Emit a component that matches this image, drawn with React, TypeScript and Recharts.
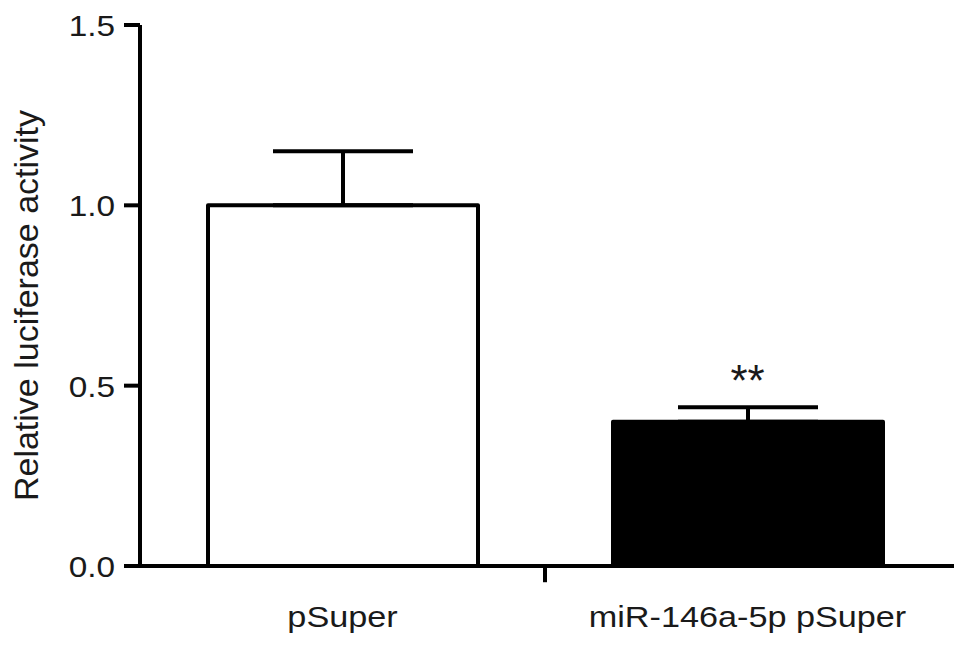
import React from 'react';
import { ComposedChart, Bar, XAxis, YAxis, ErrorBar, ReferenceLine, Line } from 'recharts';

const categories = ['pSuper', 'miR-146a-5p pSuper'];
const means = [1.0, 0.4];
const errors = [0.15, 0.04];
const significance = ['', '**'];
const barColors = ['#ffffff', '#000000'];
const yTicks = [0, 0.5, 1.0, 1.5];

const data = categories.map((name, i) => ({
  name,
  value: means[i],
  err: [0, errors[i]],
  top: means[i] + errors[i],
  sig: significance[i],
  fill: barColors[i],
}));

const FONT = '"Liberation Sans", Arial, Helvetica, sans-serif';

const YTick = (props: any) => {
  const { x, y, payload } = props;
  return (
    <g>
      <line x1={x} x2={x + 16} y1={y} y2={y} stroke="#000" strokeWidth={4} />
      <text
        transform={`translate(${x - 9},${y + 11}) scale(1.15,1)`}
        textAnchor="end"
        fontFamily={FONT}
        fontSize={29}
        fill="#1a1a1a"
      >
        {Number(payload.value).toFixed(1)}
      </text>
    </g>
  );
};

const XTick = (props: any) => {
  const { x, y, payload } = props;
  return (
    <text
      transform={`translate(${x},${y + 61}) scale(1.18,1)`}
      textAnchor="middle"
      fontFamily={FONT}
      fontSize={29}
      fill="#1a1a1a"
    >
      {payload.value}
    </text>
  );
};

const YLabel = (props: any) => {
  const { viewBox } = props;
  const cx = viewBox.x + 26;
  const cy = viewBox.y + viewBox.height / 2 + 10;
  return (
    <text
      x={cx}
      y={cy}
      transform={`rotate(-90 ${cx} ${cy})`}
      textAnchor="middle"
      dominantBaseline="central"
      fontFamily={FONT}
      fontSize={34}
      fill="#1a1a1a"
    >
      Relative luciferase activity
    </text>
  );
};

const SigLabel = (props: any) => {
  const { x, y, index } = props;
  const s = significance[index];
  if (!s) return null;
  return (
    <text x={x} y={y - 11} textAnchor="middle" fontFamily={FONT} fontSize={44} fill="#1a1a1a">
      {s}
    </text>
  );
};

export default function App() {
  return (
    <div style={{ position: 'absolute', left: 0, top: 0, background: '#fff' }}>
      <ComposedChart
        width={969}
        height={647}
        data={data}
        margin={{ top: 25, right: 15, bottom: 0, left: 0 }}
      >
        <XAxis
          dataKey="name"
          height={81}
          padding={{ left: 16, right: 4 }}
          axisLine={{ stroke: '#000', strokeWidth: 4 }}
          tickLine={false}
          tickSize={0}
          tickMargin={0}
          tick={<XTick />}
          interval={0}
        />
        <YAxis
          type="number"
          domain={[0, 1.5]}
          ticks={yTicks}
          width={124}
          axisLine={false}
          tickLine={false}
          tickSize={0}
          tickMargin={0}
          tick={<YTick />}
          label={<YLabel />}
        />
        <ReferenceLine
          x={categories[0]}
          position="start"
          stroke="#000"
          strokeWidth={4}
          ifOverflow="visible"
        />
        <ReferenceLine
          segment={[
            { x: categories[1], y: 0 },
            { x: categories[1], y: -0.045 },
          ]}
          position="start"
          stroke="#000"
          strokeWidth={4}
          ifOverflow="visible"
        />
        <Bar
          dataKey="value"
          barSize={270}
          stroke="#000"
          strokeWidth={4}
          strokeLinejoin="round"
          isAnimationActive={false}
        >
          <ErrorBar dataKey="err" width={70} stroke="#000" strokeWidth={4} direction="y" />
        </Bar>
        <Line
          dataKey="top"
          stroke="none"
          dot={false}
          activeDot={false}
          label={<SigLabel />}
          isAnimationActive={false}
        />
      </ComposedChart>
    </div>
  );
}
